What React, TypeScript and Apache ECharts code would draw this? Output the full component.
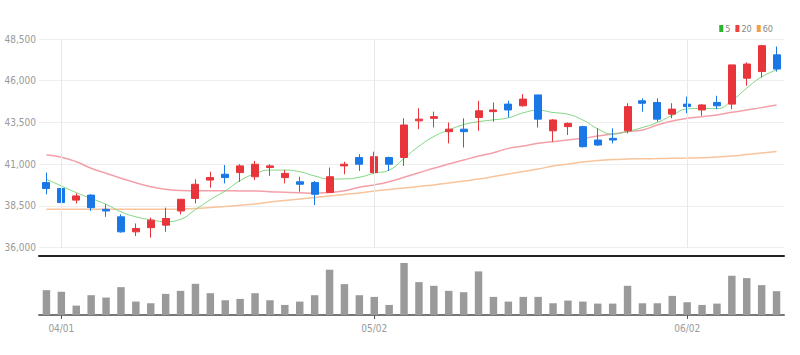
import React, { useEffect, useRef } from "react";
import * as echarts from "echarts";

const dates = [
  "03/31", "04/01", "04/04", "04/05", "04/06", "04/07", "04/08", "04/11", "04/12", "04/13",
  "04/14", "04/15", "04/18", "04/19", "04/20", "04/21", "04/22", "04/25", "04/26", "04/27",
  "04/28", "04/29", "05/02", "05/03", "05/04", "05/06", "05/09", "05/10", "05/11", "05/12",
  "05/13", "05/16", "05/17", "05/18", "05/19", "05/20", "05/23", "05/24", "05/25", "05/26",
  "05/27", "05/30", "05/31", "06/02", "06/03", "06/07", "06/08", "06/09", "06/10", "06/13",
];

// [open, close, low, high]
const ohlc: number[][] = [
  [39900, 39550, 39200, 40500], [39550, 38700, 38650, 40050], [38850, 39100, 38650, 39250],
  [39150, 38400, 38200, 39200], [38300, 38200, 37850, 38600], [37850, 36950, 36900, 38000],
  [36950, 37150, 36700, 37450], [37200, 37650, 36600, 37800], [37350, 37750, 36950, 38400],
  [38200, 38900, 38000, 38900], [38950, 39800, 38650, 40100], [40050, 40200, 39600, 40550],
  [40400, 40200, 39850, 40950], [40500, 40900, 39950, 41000], [40250, 41000, 40050, 41200],
  [40800, 40900, 40300, 41000], [40200, 40450, 39850, 40650], [39950, 39800, 39350, 40250],
  [39900, 39200, 38550, 40000], [39300, 40250, 39300, 40800], [40900, 41000, 40400, 41150],
  [41400, 41000, 40600, 41600], [40500, 41450, 40450, 41750], [41400, 41000, 40600, 41450],
  [41400, 43350, 40900, 43750], [43600, 43700, 43100, 44350], [43750, 43850, 43200, 44150],
  [42950, 43100, 42250, 43500], [43100, 42950, 42000, 43750], [43800, 44200, 43000, 44800],
  [44150, 44250, 43550, 44700], [44600, 44250, 43800, 44800], [44500, 44900, 44450, 45200],
  [45150, 43700, 43200, 45150], [43000, 43650, 42350, 43700], [43250, 43450, 42750, 43500],
  [43250, 42050, 42000, 43300], [42450, 42150, 42100, 43150], [42550, 42450, 42250, 43150],
  [43000, 44450, 42850, 44650], [44800, 44650, 44150, 44950], [44700, 43700, 43550, 44950],
  [44000, 44300, 43750, 44650], [44600, 44450, 44050, 45050], [44250, 44550, 43900, 44600],
  [44700, 44500, 44300, 45100], [44600, 46950, 44300, 46950], [46150, 47000, 45700, 47100],
  [46550, 48100, 46200, 48150], [47550, 46700, 46550, 48050],
];

const volumes = [
  740, 690, 280, 590, 520, 830, 400, 350, 630, 720,
  930, 650, 440, 480, 650, 440, 300, 400, 590, 1350,
  920, 590, 540, 300, 1550, 980, 870, 720, 680, 1300,
  540, 400, 540, 540, 350, 430, 400, 340, 340, 870,
  350, 350, 570, 380, 300, 340, 1170, 1100, 890, 710,
];

const ma5 = [
  40100, 39700, 39300, 38950, 38600, 38150, 37850, 37670, 37560, 37700,
  38280, 38880, 39400, 40020, 40430, 40650, 40650, 40550, 40300, 40110,
  40120, 40220, 40460, 40650, 41350, 42080, 42660, 43050, 43370, 43550,
  43660, 43780, 44080, 44230, 44100, 43990, 43650, 43120, 42800, 42960,
  43200, 43500, 43930, 44310, 44340, 44330, 44800, 45560, 46230, 46650,
];

const ma20 = [
  41550, 41420, 41150, 40760, 40460, 40160, 39890, 39650, 39500, 39420,
  39410, 39410, 39410, 39400, 39400, 39350, 39320, 39290, 39260, 39320,
  39410, 39620, 39760, 39950, 40220, 40490, 40760, 41010, 41250, 41490,
  41690, 41950, 42090, 42250, 42350, 42450, 42550, 42690, 42810, 42950,
  43050, 43350, 43590, 43750, 43850, 43950, 44110, 44250, 44390, 44550,
];

const ma60 = [
  38300, 38300, 38300, 38300, 38300, 38300, 38300, 38300, 38300, 38320,
  38350, 38410, 38470, 38540, 38620, 38740, 38830, 38920, 39010, 39100,
  39190, 39280, 39400, 39490, 39580, 39670, 39760, 39880, 40000, 40110,
  40260, 40410, 40560, 40710, 40890, 41010, 41130, 41220, 41280, 41310,
  41330, 41340, 41360, 41370, 41390, 41430, 41490, 41580, 41670, 41760,
];

const labelDates = ["04/01", "05/02", "06/02"];

const FONT = "'Liberation Sans Narrow', 'DejaVu Sans Condensed', 'Noto Sans', sans-serif";

export default function App() {
  const ref = useRef<HTMLDivElement>(null);

  useEffect(() => {
    if (!ref.current) return;
    const chart = echarts.init(ref.current, undefined, { renderer: "svg" });
    const showIdx = (i: number) => labelDates.indexOf(dates[i]) >= 0;

    const option: any = {
      animation: false,
      legend: {
        right: 22,
        top: 19,
        itemWidth: 4,
        itemHeight: 7,
        itemGap: 5,
        icon: "rect",
        textStyle: { color: "#888", fontSize: 9, fontFamily: FONT, padding: [0, 0, 0, -3] },
        data: [
          { name: "5", itemStyle: { color: "#2cb52c" } },
          { name: "20", itemStyle: { color: "#ee4040" } },
          { name: "60", itemStyle: { color: "#f5a040" } },
        ],
      },
      grid: [
        { left: 39, right: 16, top: 39, height: 208.7 },
        { left: 39, right: 16, top: 263, height: 52 },
      ],
      xAxis: [
        {
          type: "category",
          gridIndex: 0,
          data: dates,
          boundaryGap: true,
          offset: 8,
          axisLine: { lineStyle: { color: "#222", width: 2 } },
          axisTick: { show: false },
          axisLabel: { show: false },
          splitLine: { show: false },
        },
        {
          type: "category",
          gridIndex: 1,
          data: dates,
          boundaryGap: true,
          axisLine: { lineStyle: { color: "#777", width: 2 } },
          axisTick: {
            show: true,
            alignWithLabel: true,
            interval: (i: number) => showIdx(i),
            length: 4,
            lineStyle: { color: "#555" },
          },
          axisLabel: {
            interval: (i: number) => showIdx(i),
            color: "#999",
            fontSize: 10,
            fontFamily: FONT,
            margin: 8,
          },
          splitLine: { show: false },
        },
      ],
      yAxis: [
        {
          type: "value",
          gridIndex: 0,
          min: 36000,
          max: 48500,
          interval: 2500,
          axisLine: { show: false },
          axisTick: { show: false },
          axisLabel: {
            color: "#999",
            fontSize: 10,
            fontFamily: FONT,
            margin: 3,
            formatter: (v: number) => v.toLocaleString("en-US"),
          },
          splitLine: { lineStyle: { color: "#efefef", width: 1 } },
        },
        {
          type: "value",
          gridIndex: 1,
          min: 0,
          max: 1550,
          axisLine: { show: false },
          axisTick: { show: false },
          axisLabel: { show: false },
          splitLine: { show: false },
        },
      ],
      series: [
        {
          name: "60",
          type: "line",
          xAxisIndex: 0,
          yAxisIndex: 0,
          data: ma60,
          smooth: true,
          showSymbol: false,
          z: 1,
          itemStyle: { color: "#f5a040" },
          lineStyle: { color: "#f8c49c", width: 1.5 },
          markLine: {
            silent: true,
            symbol: ["none", "none"],
            label: { show: false },
            lineStyle: { color: "#e8e8e8", width: 1, type: "solid" },
            data: labelDates.map((d) => ({ xAxis: d })),
          },
        },
        {
          name: "20",
          type: "line",
          xAxisIndex: 0,
          yAxisIndex: 0,
          data: ma20,
          smooth: true,
          showSymbol: false,
          z: 1,
          itemStyle: { color: "#ee4040" },
          lineStyle: { color: "#f3a0aa", width: 1.5 },
        },
        {
          name: "5",
          type: "line",
          xAxisIndex: 0,
          yAxisIndex: 0,
          data: ma5,
          smooth: true,
          showSymbol: false,
          z: 1,
          itemStyle: { color: "#2cb52c" },
          lineStyle: { color: "#7fd47f", width: 1 },
        },
        {
          name: "price",
          type: "candlestick",
          xAxisIndex: 0,
          yAxisIndex: 0,
          data: ohlc,
          barWidth: "50%",
          z: 3,
          itemStyle: {
            color: "#e8353b",
            color0: "#1a78e6",
            borderColor: "#e8353b",
            borderColor0: "#1a78e6",
            borderWidth: 1,
          },
        },
        {
          name: "volume",
          type: "bar",
          xAxisIndex: 1,
          yAxisIndex: 1,
          data: volumes,
          barWidth: "50%",
          itemStyle: { color: "#9a9a9a" },
        },
      ],
    };

    chart.setOption(option);
    return () => chart.dispose();
  }, []);

  return (
    <div
      ref={ref}
      style={{ position: "fixed", left: 0, top: 0, width: 800, height: 355, background: "#fff" }}
    />
  );
}
